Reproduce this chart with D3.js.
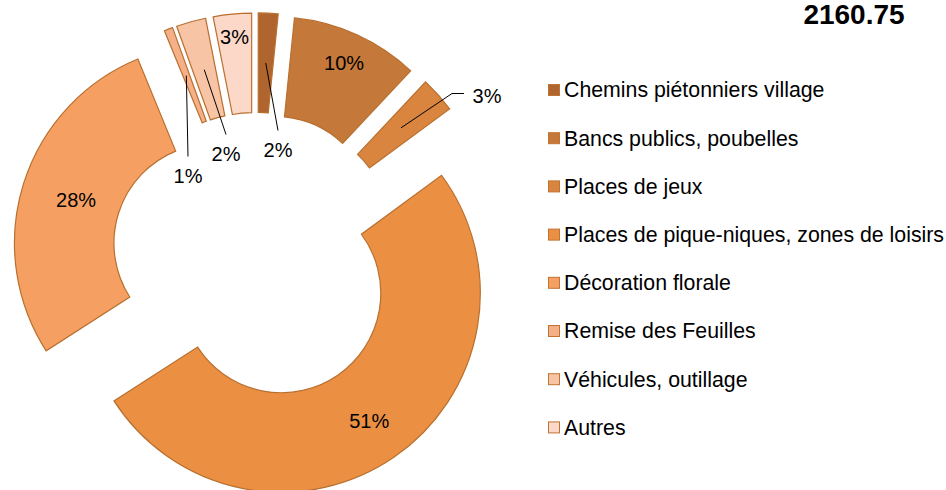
<!DOCTYPE html>
<html>
<head>
<meta charset="utf-8">
<script src="https://cdn.jsdelivr.net/npm/d3@7"></script>
<style>
  body { margin: 0; background: #fff; }
  svg { display: block; font-family: "Liberation Sans", Arial, sans-serif; }
</style>
</head>
<body>
<div id="chart"></div>
<script>

// chart values (share of total, in %)
var categories = ["Chemins piétonniers village", "Bancs publics, poubelles", "Places de jeux",
    "Places de pique-niques, zones de loisirs", "Décoration florale", "Remise des Feuilles",
    "Véhicules, outillage", "Autres"];
var shares = [1.6, 10.4, 2.9, 51.0, 27.9, 0.7, 2.4, 3.1];
var colors = ["#b0652e", "#c4783a", "#d9843f", "#eb8f43", "#f5a062", "#f5b088", "#f8c4a6", "#fbd8c7"];
var title = "2160.75";

// label placement: "in" = inside the slice at radius r, "out" = moved label with leader line
var labelLayout = [
    { type: "out", dx: 22, dy: -107 },
    { type: "in", r: 168 },
    { type: "out", dx: 231, dy: -161, elbow: true },
    { type: "in", r: 155 },
    { type: "in", r: 144 },
    { type: "out", dx: -68, dy: -81 },
    { type: "out", dx: -30, dy: -103 },
    { type: "in", r: 176 }
];

var width = 946, height = 490;
var cx = 256, cy = 256.5;
var outerR = 199, innerR = 99.5, explode = 44.6;

var svg = d3.select("#chart").append("svg")
    .attr("width", width)
    .attr("height", height);

var data = categories.map(function (c, i) { return { name: c, value: shares[i], i: i }; });
var total = d3.sum(shares);

var pie = d3.pie().sort(null).value(function (d) { return d.value; });
var arc = d3.arc().innerRadius(innerR).outerRadius(outerR);
var arcs = pie(data);

function dir(a) { return [Math.sin(a), -Math.cos(a)]; }

var g = svg.append("g").attr("transform", "translate(" + cx + "," + cy + ")");

var slices = g.selectAll(".slice")
    .data(arcs)
    .enter().append("g")
    .attr("class", "slice")
    .attr("transform", function (d) {
        var v = dir((d.startAngle + d.endAngle) / 2);
        return "translate(" + v[0] * explode + "," + v[1] * explode + ")";
    });

slices.append("path")
    .attr("d", arc)
    .attr("fill", function (d) { return colors[d.data.i]; })
    .attr("stroke", "#b8702f")
    .attr("stroke-width", 1.2);

// data labels
arcs.forEach(function (d) {
    var mid = (d.startAngle + d.endAngle) / 2;
    var v = dir(mid);
    var sx = v[0] * explode, sy = v[1] * explode;
    var lay = labelLayout[d.data.i];
    var txt = Math.round(d.data.value / total * 100) + "%";
    var lx, ly;
    if (lay.type == "in") {
        lx = sx + v[0] * lay.r;
        ly = sy + v[1] * lay.r;
    } else {
        lx = lay.dx;
        ly = lay.dy;
        var c = arc.centroid(d);
        var p0 = [sx + c[0], sy + c[1]];
        var pts;
        if (lay.elbow) {
            pts = [p0, [lx - 35, ly - 2], [lx - 23, ly - 2]];
        } else {
            pts = [p0, [lx, ly - 19]];
        }
        g.append("path")
            .attr("d", d3.line()(pts))
            .attr("fill", "none")
            .attr("stroke", "#000")
            .attr("stroke-width", 1);
    }
    g.append("text")
        .attr("x", lx)
        .attr("y", ly)
        .attr("dy", "0.35em")
        .attr("text-anchor", "middle")
        .attr("font-size", "20px")
        .attr("fill", "#000")
        .text(txt);
});

// legend
var legend = svg.append("g").attr("transform", "translate(548,90)");
var rows = legend.selectAll(".row")
    .data(data)
    .enter().append("g")
    .attr("class", "row")
    .attr("transform", function (d, i) { return "translate(0," + (i * 48.2) + ")"; });

rows.append("rect")
    .attr("x", 0.5).attr("y", -5.5)
    .attr("width", 11).attr("height", 11)
    .attr("fill", function (d) { return colors[d.i]; })
    .attr("stroke", "#c07434")
    .attr("stroke-width", 1);

rows.append("text")
    .attr("x", 16)
    .attr("y", 0)
    .attr("dy", "0.35em")
    .attr("font-size", "21.3px")
    .attr("fill", "#000")
    .text(function (d) { return d.name; });

// title
svg.append("text")
    .attr("x", 854)
    .attr("y", 24)
    .attr("text-anchor", "middle")
    .attr("font-size", "28px")
    .attr("font-weight", "bold")
    .attr("fill", "#000")
    .text(title);

</script>
</body>
</html>
